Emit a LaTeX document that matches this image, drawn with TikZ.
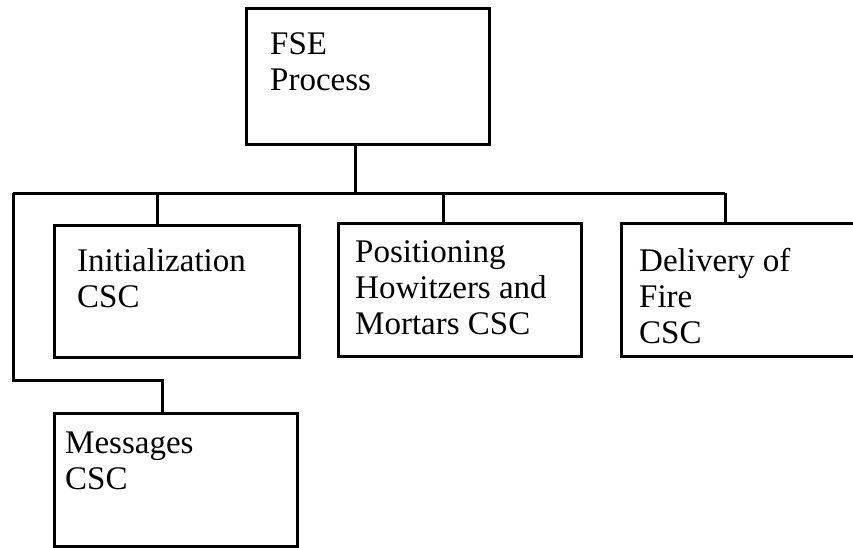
\documentclass[tikz,border=0pt]{standalone}
\usepackage{fontspec}
\setmainfont{Liberation Serif}
\usepackage{tikz}
\usetikzlibrary{positioning,calc}

\tikzset{
  csc/.style={draw,line width=3pt,anchor=north west,inner sep=0pt},
  csctext/.style={anchor=north west,align=left,inner sep=0pt,
    font=\fontsize{33}{36}\selectfont},
  link/.style={line width=3pt}
}

\begin{document}
\begin{tikzpicture}[x=1pt,y=-1pt]
\useasboundingbox (0,0) rectangle (853,548);
\clip (0,0) rectangle (853,548);

% Boxes
\node[csc,minimum width=243pt,minimum height=136pt] (fse) at (245,7) {};
\node[csc,minimum width=245pt,minimum height=132pt] (init) at (53,224) {};
\node[csc,minimum width=243pt,minimum height=133pt] (pos) at (337,222) {};
\node[csc,minimum width=250pt,minimum height=133pt] (del) at (620,222) {};
\node[csc,minimum width=243pt,minimum height=133pt] (msg) at (53,412) {};

% Texts
\node[csctext] (fsetxt) at (270,32) {FSE\\Process};
\node[csctext] (inittxt) at (77,248) {Initialization\\CSC};
\node[csctext] (postxt) at (355,240) {Positioning\\Howitzers and\\Mortars CSC};
\node[csctext] (deltxt) at (639,248) {Delivery of\\Fire\\CSC};
\node[csctext] (msgtxt) at (65,432) {Messages\\CSC};

% Connectors
\coordinate (hub) at (355,193);
\coordinate (busL) at (13,193);
\coordinate (busR) at (725,193);
\coordinate (tinit) at (157,193);
\coordinate (tpos) at (443,193);
\coordinate (tmsg) at (162,380);
\draw[link] (hub |- fse.south) -- (hub);
\draw[link] (busL) -- (busR);
\draw[link] (tinit) -- (tinit |- init.north);
\draw[link] (tpos) -- (tpos |- pos.north);
\draw[link] (busR) -- (busR |- del.north);
\draw[link] (busL) -- (busL |- tmsg) -- (tmsg) -- (tmsg |- msg.north);
\end{tikzpicture}
\end{document}
